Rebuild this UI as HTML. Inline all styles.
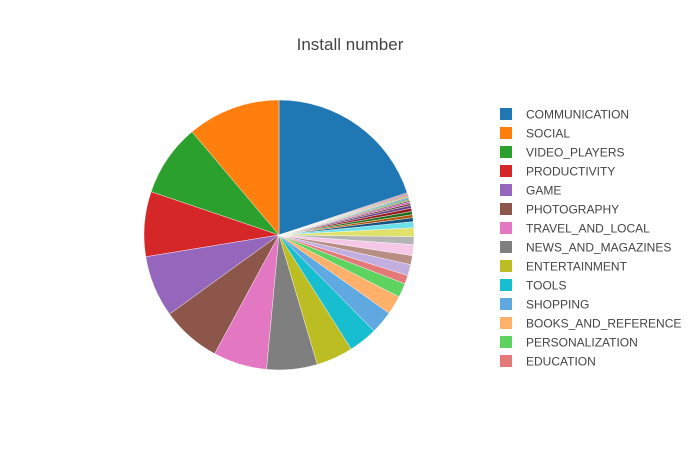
<!DOCTYPE html>
<html><head><meta charset="utf-8"><style>
html,body{margin:0;padding:0;background:#fff;}
svg{display:block;font-family:"Liberation Sans",sans-serif;}
</style></head><body>
<svg id="chart" width="700" height="450" viewBox="0 0 700 450">
<rect width="700" height="450" fill="#fff"/>
<text x="350" y="50" text-anchor="middle" font-size="17" fill="#444">Install number</text>
<g id="slices"></g>
<g id="legend"></g>
</svg>
<script>
const categories = ["COMMUNICATION","SOCIAL","VIDEO_PLAYERS","PRODUCTIVITY","GAME","PHOTOGRAPHY","TRAVEL_AND_LOCAL","NEWS_AND_MAGAZINES","ENTERTAINMENT","TOOLS","SHOPPING","BOOKS_AND_REFERENCE","PERSONALIZATION","EDUCATION","S15","S16","S17","S18","S19","S20","S21","S22","S23","S24","S25","S26","S27","S28","S29","S30","S31","S32","S33","S34","S35","S36"];
const values = [71.8,40.2,31.2,28.0,26.6,25.7,23.2,21.8,15.9,12.4,9.9,8.1,6.1,3.7,4.8,3.9,4.7,3.4,3.8,2.6,1.7,1.3,1.4,1.4,1.2,0.8,0.7,0.6,0.5,0.5,0.45,0.4,0.4,0.4,0.45,0.4];
const legendCount = 14;
const colors = ["#1f77b4","#ff7f0e","#2ca02c","#d62728","#9467bd","#8c564b","#e377c2","#7f7f7f","#bcbd22","#17becf",
"#5fa8e0","#ffb06a","#5fd35f","#e57878","#c3aee0","#b98e84","#f4c8e6","#b4b4b4","#e0e16a","#6ee0ea",
"#16537e","#b35309","#1e701e","#961b1c","#673f8b","#623c35","#d43aa6","#595959","#848518","#10858f"];
const cx=279, cy=235, r=135;
const svgNS="http://www.w3.org/2000/svg";
const total = values.reduce((a,b)=>a+b,0);
function pt(phi){ // ccw angle in degrees from top
  const a=phi*Math.PI/180;
  return [cx - r*Math.sin(a), cy - r*Math.cos(a)];
}
const g=document.getElementById('slices');
let start = -360*values[0]/total; // communication ends at top (ccw)
values.forEach((v,i)=>{
  const span=360*v/total;
  const p0=pt(start), p1=pt(start+span);
  const large=span>180?1:0;
  const path=document.createElementNS(svgNS,'path');
  path.setAttribute('d',`M${cx},${cy}L${p0[0]},${p0[1]}A${r},${r} 0 ${large} 0 ${p1[0]},${p1[1]}Z`);
  path.setAttribute('fill',colors[i%colors.length]);
  path.setAttribute('stroke','#fff');
  path.setAttribute('stroke-width','0.4');
  
  
  g.appendChild(path);
  start+=span;
});
const lg=document.getElementById('legend');
for(let i=0;i<legendCount;i++){
  const y=108+i*19;
  const e=document.createElementNS(svgNS,'g');
  
  
  const rc=document.createElementNS(svgNS,'rect');
  rc.setAttribute('x',500);rc.setAttribute('y',y);rc.setAttribute('width',12);rc.setAttribute('height',12);
  rc.setAttribute('fill',colors[i]);
  const t=document.createElementNS(svgNS,'text');
  t.setAttribute('x',526);t.setAttribute('y',y+10.5);t.setAttribute('font-size','12');t.setAttribute('fill','#444');
  t.textContent=categories[i];
  e.appendChild(rc);e.appendChild(t);lg.appendChild(e);
}
</script>
</body></html>
